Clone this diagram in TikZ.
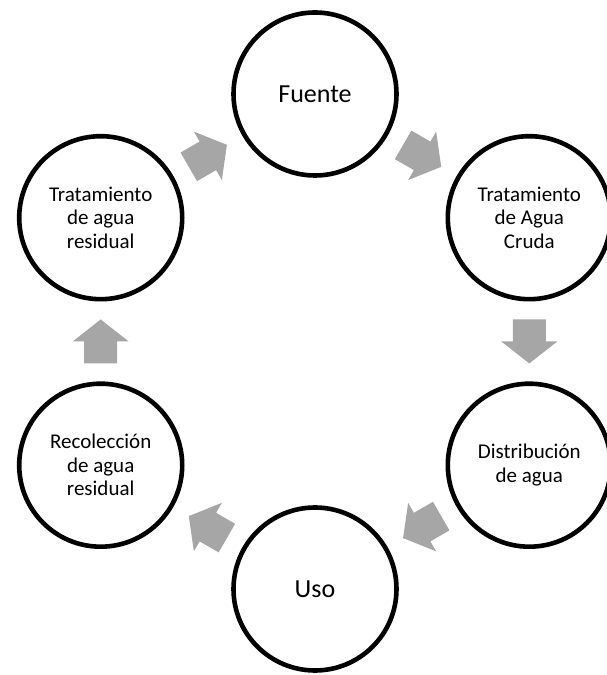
\documentclass[tikz,border=0pt]{standalone}
\usepackage{fontspec}
\setmainfont{Carlito}
\usepackage{xcolor}
\usetikzlibrary{calc}
\definecolor{flowgray}{HTML}{A6A6A6}

\begin{document}
\begin{tikzpicture}[
    x=1pt, y=1pt,
    stage/.style={circle, draw, line width=4.6pt, minimum size=163pt, inner sep=0pt, align=center, font=\fontsize{21}{23.5}\selectfont},
    big/.style={font=\fontsize{26}{30}\selectfont},
    flow/.style={fill=flowgray, draw=none}
]
\useasboundingbox (0,0) rectangle (606,675);

% six stages of the cycle
\node[stage, big] (fuente) at (315, 581) {Fuente};
\node[stage] (cruda) at (529.3, 457.3) {Tratamiento\\de Agua\\Cruda};
\node[stage] (dist) at (529.3, 209.8) {Distribución\\de agua};
\node[stage, big] (uso) at (315, 86) {Uso};
\node[stage] (recol) at (100.7, 209.8) {Recolección\\de agua\\residual};
\node[stage] (resid) at (100.7, 457.3) {Tratamiento\\de agua\\residual};

% block arrows between neighbours
\foreach \a/\b/\r in {fuente/cruda/-30, cruda/dist/-90, dist/uso/-150, uso/recol/150, recol/resid/90, resid/fuente/30} {
    \fill[flow, shift={($(\a)!0.5!(\b)$)}, rotate=\r]
        (-22,-16.5) -- (0,-16.5) -- (0,-28) -- (22,0) -- (0,28) -- (0,16.5) -- (-22,16.5) -- cycle;
}
\end{tikzpicture}
\end{document}
